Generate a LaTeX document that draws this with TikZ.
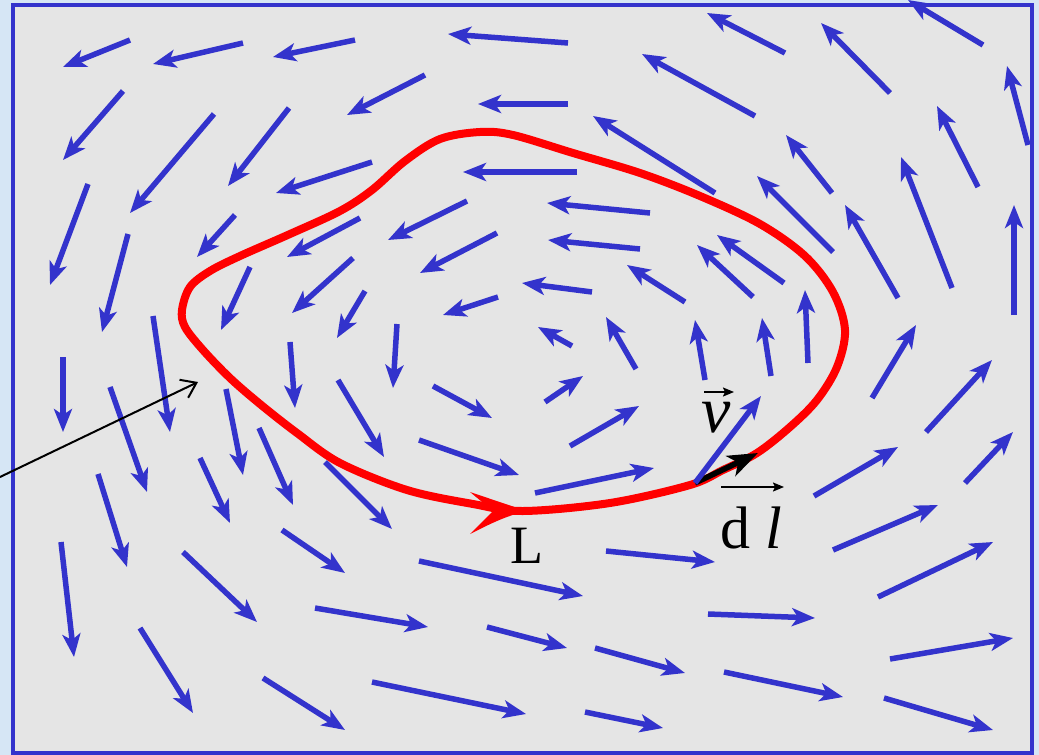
\documentclass[tikz,border=0pt]{standalone}
\usepackage{fontspec}
\setmainfont{Liberation Serif}
\newfontfamily\labelserif{Liberation Serif}
\usetikzlibrary{arrows.meta}
\definecolor{fieldblue}{RGB}{51,51,204}
\definecolor{panelgray}{RGB}{229,229,229}
\definecolor{bgblue}{RGB}{214,230,245}
\definecolor{loopred}{RGB}{255,0,0}
\begin{document}
\begin{tikzpicture}[x=1pt,y=-1pt,
  fieldarrow/.style={draw=fieldblue,line width=5.5pt,
    -{Stealth[length=23pt,width=18pt,inset=6pt]}},
  loopline/.style={draw=loopred,line width=8pt},
  dlarrow/.style={draw=black,line width=5.5pt,
    -{Stealth[length=30pt,width=22pt,inset=8pt]}},
  pointer/.style={draw=black,line width=2pt,
    -{Straight Barb[length=14pt,width=20pt]}},
  overarrow/.style={draw=black,line width=1.8pt,
    -{Stealth[length=11pt,width=9pt,inset=2pt]}},
  labeltext/.style={inner sep=0pt,text=black}]
\useasboundingbox (0,0) rectangle (1039,755);
\fill[bgblue] (0,0) rectangle (1039,755);
\draw[fieldblue,line width=3.5pt,fill=panelgray] (13,5) rectangle (1032,753);

% velocity field
\foreach \a/\b/\c/\d in {
 130/40/63/67, 243/43/153/64, 355/40/273/57, 568/43/448/34, 785/53/707/13,
 983/45/908/0, 123/91/63/160, 214/114/130/213, 289/108/228/186, 425/75/347/115,
 568/104/478/104, 755/116/642/54, 890/93/821/23, 1028/145/1007/66, 88/184/50/285,
 372/162/276/193, 577/172/463/172, 715/193/593/116, 832/193/786/135, 978/187/937/106,
 235/215/197/257, 360/218/287/257, 467/201/388/240, 650/213/547/203, 833/252/757/176,
 898/298/845/205, 952/288/901/157, 1014/315/1014/205, 128/234/102/332, 250/267/221/330,
 353/258/292/313, 497/233/420/273, 640/249/548/240, 753/297/697/245, 784/283/717/235,
 685/302/627/265, 592/292/522/283, 498/297/443/315, 365/291/337/338, 290/342/295/408,
 397/324/393/388, 572/346/538/327, 636/369/606/317, 705/380/695/320, 771/376/762/318,
 808/363/805/290, 872/398/916/325, 926/432/992/360, 965/483/1013/432, 63/357/63/432,
 153/316/170/432, 110/387/147/492, 226/389/243/475, 259/428/293/505, 338/380/384/457,
 433/386/492/418, 545/402/583/376, 570/446/639/406, 419/440/519/475, 535/493/654/468,
 814/496/898/447, 200/458/230/523, 98/474/127/567, 325/462/392/529, 61/542/74/657,
 140/628/193/713, 183/552/257/622, 282/530/345/573, 263/678/345/730, 315/608/428/627,
 419/561/583/596, 487/627/567/648, 595/648/685/673, 372/682/526/714, 585/712/663/728,
 606/551/715/562, 833/550/938/505, 878/597/993/542, 708/614/815/618, 890/659/1013/638,
 724/672/843/697, 884/698/993/730}
 \draw[fieldarrow] (\a,\b) -- (\c,\d);

% closed loop L
\draw[loopline] plot[smooth cycle,tension=0.55] coordinates {
 (182,310) (190,287) (210,271) (240,256) (290,234) (340,211) (372,190) (405,161)
 (440,139) (480,132) (513,135) (573,153) (640,173) (700,196) (760,224) (805,256)
 (833,292) (845,330) (837,367) (817,400) (790,427) (757,453) (723,470) (690,485)
 (610,503) (523,511) (473,504) (407,490) (340,463) (297,433) (260,404) (230,378)
 (203,350) (185,327)};
% arrowhead on the loop
\fill[loopred] (527,511) .. controls (505,504) and (488,498) .. (470,492)
  -- (493,511) -- (470,534) .. controls (488,525) and (505,516) .. (527,511) -- cycle;

% dl element and velocity at that point
\coordinate (dlstart) at (695,483);
\coordinate (dlend) at (758,453);
\coordinate (vend) at (761,396);
\draw[dlarrow] (dlstart) -- (dlend);
\draw[fieldarrow] (dlstart) -- (vend);

% pointer from the left
\coordinate (ptrsrc) at (0,477);
\coordinate (ptrtip) at (198,382);
\draw[pointer] (ptrsrc) -- (ptrtip);

% labels
\node[labeltext,font=\labelserif\fontsize{66}{66}\selectfont\itshape] (vlab) at (716,418) {v};
\coordinate (va) at (704,392);
\coordinate (vb) at (734,392);
\draw[overarrow] (va) -- (vb);

\node[labeltext,font=\labelserif\fontsize{60}{60}\selectfont] (dllab) at (751,527.5) {d\kern 0.25em\textit{l}};
\coordinate (da) at (721,487);
\coordinate (db) at (784,487);
\draw[overarrow] (da) -- (db);

\node[labeltext,font=\labelserif\fontsize{54}{54}\selectfont] (Llab) at (527,545.5) {L};
\end{tikzpicture}
\end{document}
